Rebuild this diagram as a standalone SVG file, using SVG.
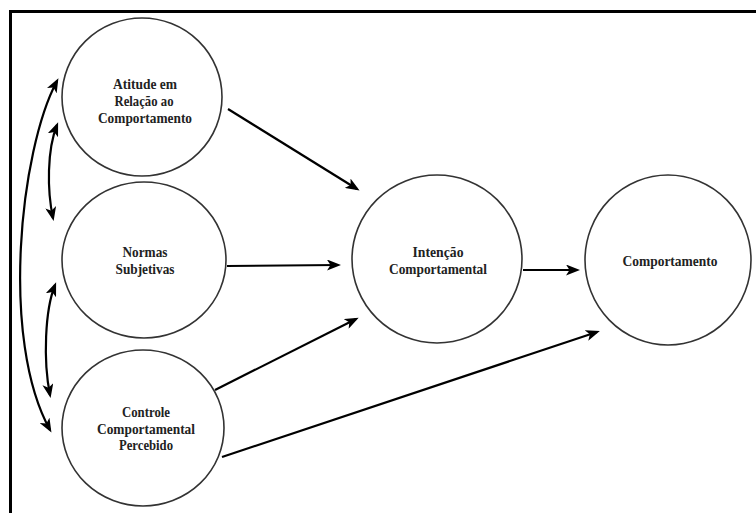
<svg xmlns="http://www.w3.org/2000/svg" width="756" height="513" viewBox="0 0 756 513">
<style>
.node{fill:#fff;stroke:#333;stroke-width:1.6}
.lbl{font-family:'Liberation Serif','Times New Roman',serif;font-weight:bold;font-size:14.5px;fill:#222;text-anchor:middle}
.con{fill:none;stroke:#000;stroke-width:2.2}
.border{stroke:#000;stroke-width:3;fill:none}
</style>
<defs>
<marker id="ah" markerUnits="userSpaceOnUse" viewBox="0 0 14 11" markerWidth="14" markerHeight="11" refX="11" refY="5.5" orient="auto-start-reverse">
<path d="M0,0 L14,5.5 L0,11 L3.5,5.5 z" fill="#000"/>
</marker>
</defs>
<rect width="756" height="513" fill="#fff"/>
<path class="border" d="M10.5,513 V11.5 H756"/>
<g id="n-atitude">
<ellipse class="node" cx="142" cy="97" rx="80" ry="79"/>
<text class="lbl" x="145" y="89" textLength="64" lengthAdjust="spacingAndGlyphs">Atitude em</text>
<text class="lbl" x="144" y="106" textLength="59" lengthAdjust="spacingAndGlyphs">Relação ao</text>
<text class="lbl" x="145" y="123" textLength="94" lengthAdjust="spacingAndGlyphs">Comportamento</text>
</g>
<g id="n-normas">
<ellipse class="node" cx="144" cy="260" rx="82" ry="78"/>
<text class="lbl" x="145" y="257" textLength="45" lengthAdjust="spacingAndGlyphs">Normas</text>
<text class="lbl" x="145" y="274" textLength="59" lengthAdjust="spacingAndGlyphs">Subjetivas</text>
</g>
<g id="n-controle">
<ellipse class="node" cx="143" cy="428" rx="81" ry="78"/>
<text class="lbl" x="146" y="417" textLength="48" lengthAdjust="spacingAndGlyphs">Controle</text>
<text class="lbl" x="146" y="434" textLength="98" lengthAdjust="spacingAndGlyphs">Comportamental</text>
<text class="lbl" x="146" y="450" textLength="54" lengthAdjust="spacingAndGlyphs">Percebido</text>
</g>
<g id="n-intencao">
<ellipse class="node" cx="437" cy="259" rx="85" ry="84"/>
<text class="lbl" x="438" y="257" textLength="51" lengthAdjust="spacingAndGlyphs">Intenção</text>
<text class="lbl" x="438" y="274" textLength="98" lengthAdjust="spacingAndGlyphs">Comportamental</text>
</g>
<g id="n-comportamento">
<ellipse class="node" cx="668" cy="260" rx="83" ry="85"/>
<text class="lbl" x="670" y="266" textLength="95" lengthAdjust="spacingAndGlyphs">Comportamento</text>
</g>
<g id="connectors">
<path class="con" marker-end="url(#ah)" d="M228,109 L357,189"/>
<path class="con" marker-end="url(#ah)" d="M227,266 L338,265"/>
<path class="con" marker-end="url(#ah)" d="M215,390 L356,319"/>
<path class="con" marker-end="url(#ah)" d="M523,270 L577,270"/>
<path class="con" marker-end="url(#ah)" d="M222,457 L597,332"/>
<path class="con" marker-start="url(#ah)" marker-end="url(#ah)" d="M57,81 C20,150 0,340 50,430"/>
<path class="con" marker-start="url(#ah)" marker-end="url(#ah)" d="M57,125 C47,150 47,190 53,218"/>
<path class="con" marker-start="url(#ah)" marker-end="url(#ah)" d="M55,285 C45,310 43,360 50,395"/>
</g>
</svg>
